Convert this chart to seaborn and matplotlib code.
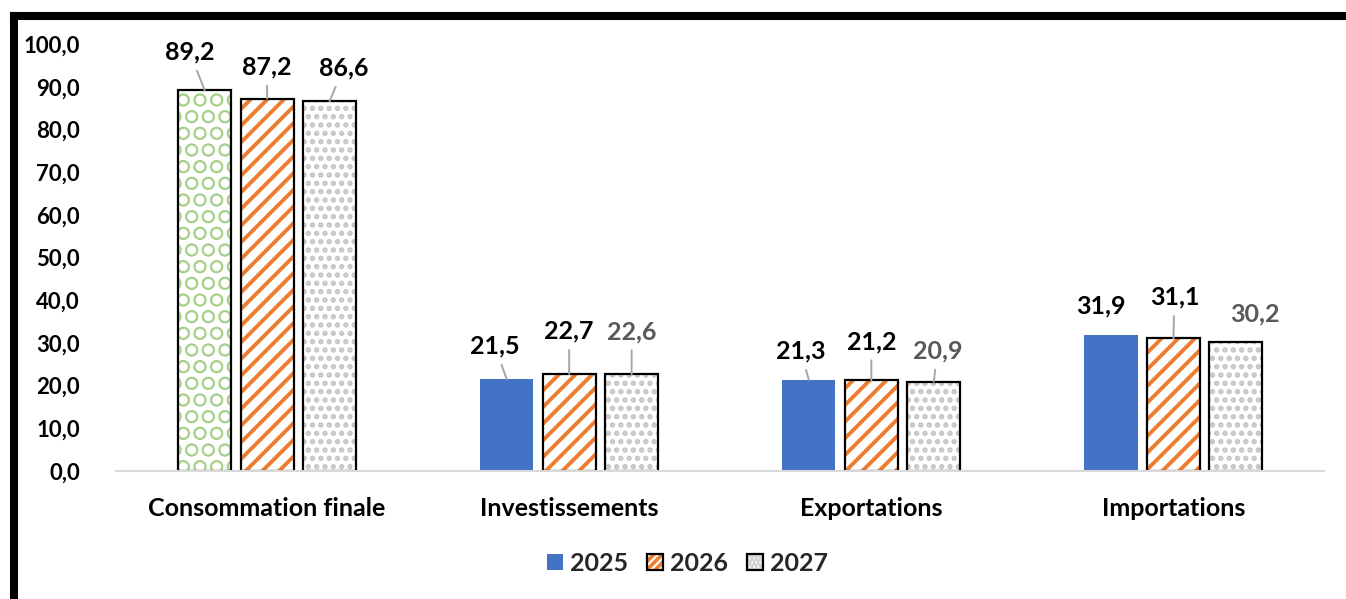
import matplotlib
matplotlib.use("Agg")
import matplotlib.pyplot as plt
from matplotlib.patches import Patch
from matplotlib.lines import Line2D
from matplotlib.colors import to_rgba
import seaborn as sns
import pandas as pd

# Data
categories = ["Consommation finale", "Investissements", "Exportations", "Importations"]
years = ["2025", "2026", "2027"]
values_2025 = [89.2, 21.5, 21.3, 31.9]
values_2026 = [87.2, 22.7, 21.2, 31.1]
values_2027 = [86.6, 22.6, 20.9, 30.2]
y_ticks = [0, 10, 20, 30, 40, 50, 60, 70, 80, 90, 100]

df = pd.DataFrame({
    "categorie": categories * 3,
    "annee": [y for y in years for _ in categories],
    "valeur": values_2025 + values_2026 + values_2027,
})

BLUE = "#4472C4"
ORANGE = "#ED7D31"
GREEN = "#A9D18E"
DOTS = "#C4C4C4"
GREY_TXT = "#595959"

sns.set_theme(style="white")
plt.rcParams["font.family"] = ["Lato", "DejaVu Sans"]
plt.rcParams["font.weight"] = "bold"
plt.rcParams["hatch.linewidth"] = 2.6

fig = plt.figure(figsize=(13.46, 5.99), dpi=100)
ax = fig.add_axes([0.0862, 0.2137, 0.8978, 0.7128])

sns.barplot(data=df, x="categorie", y="valeur", hue="annee", order=categories,
            hue_order=years, palette=[BLUE, "white", "white"], width=0.62,
            gap=0.15, saturation=1, legend=False, ax=ax, errorbar=None)


def style_bar(p, face, hatch=None, hatch_color=None, edge="black", lw=1.6, hlw=None):
    p.set_facecolor(face)
    p.set_edgecolor(edge)
    p.set_linewidth(lw)
    if hatch:
        p.set_hatch(hatch)
        p._hatch_color = to_rgba(hatch_color)
        if hlw is not None and hasattr(p, "set_hatch_linewidth"):
            p.set_hatch_linewidth(hlw)


# containers follow hue order: 2025, 2026, 2027
bars_2025, bars_2026, bars_2027 = ax.containers[:3]
for i, p in enumerate(bars_2025):
    if i == 0:
        style_bar(p, "white", "O", GREEN, hlw=1.2)
    else:
        style_bar(p, BLUE, edge="none", lw=0)
for p in bars_2026:
    style_bar(p, "white", "//", ORANGE, hlw=2.8)
for p in bars_2027:
    style_bar(p, "white", "..", DOTS, hlw=2.6)

# data labels: offsets (pixels) from the bar top, leader flag, colour
label_layout = {
    "2025": [(-15, 38, True), (-12, 33, True), (-8, 29, True), (-10, 29, False)],
    "2026": [(0, 32, True), (0, 43, True), (0, 39, True), (1, 41, True)],
    "2027": [(14, 33, True), (0, 43, True), (4, 31, True), (19, 28, False)],
}
label_colors = {
    "2025": ["black"] * 4,
    "2026": ["black"] * 4,
    "2027": ["black", GREY_TXT, GREY_TXT, GREY_TXT],
}
series = {"2025": values_2025, "2026": values_2026, "2027": values_2027}
for yr, cont in zip(years, [bars_2025, bars_2026, bars_2027]):
    for j, p in enumerate(cont):
        v = series[yr][j]
        dx, dy, leader = label_layout[yr][j]
        xc = p.get_x() + p.get_width() / 2
        kw = {}
        if leader:
            kw["arrowprops"] = dict(arrowstyle="-", color="#A6A6A6", lw=1.4,
                                    shrinkA=3, shrinkB=0)
        ax.annotate(f"{v:.1f}".replace(".", ","), xy=(xc, v),
                    xytext=(dx, dy), textcoords="offset pixels",
                    ha="center", va="center", fontsize=18, fontweight="bold",
                    color=label_colors[yr][j], **kw)

ax.set_ylim(0, 100)
ax.set_yticks(y_ticks)
ax.set_yticklabels([f"{t:.1f}".replace(".", ",") for t in y_ticks])
ax.set_xlim(-0.5, len(categories) - 0.5)
ax.set_xlabel("")
ax.set_ylabel("")
ax.tick_params(axis="y", length=0, pad=26, labelsize=16)
ax.tick_params(axis="x", length=0, pad=19, labelsize=18)
for lab in ax.get_xticklabels() + ax.get_yticklabels():
    lab.set_fontweight("bold")
    lab.set_color("black")
for s in ["left", "right", "top"]:
    ax.spines[s].set_visible(False)
ax.spines["bottom"].set_color("#D9D9D9")
ax.spines["bottom"].set_linewidth(1.5)

# legend
handles = [
    Patch(facecolor=BLUE, edgecolor="none", linewidth=0),
    Patch(facecolor="white", edgecolor="black", linewidth=1.6, hatch="////"),
    Patch(facecolor="white", edgecolor="black", linewidth=1.6, hatch="...."),
]
hatch_cols = [None, ORANGE, DOTS]
leg = fig.legend(handles, years, loc="center", bbox_to_anchor=(0.511, 0.06),
                 ncol=3, frameon=False, fontsize=18, handlelength=0.62,
                 handleheight=0.62, handletextpad=0.3, columnspacing=0.75)
for t in leg.get_texts():
    t.set_fontweight("bold")
for h, c in zip(leg.legend_handles, hatch_cols):
    if c is not None:
        h._hatch_color = to_rgba(c)

# thick frame along the left and top edges
fig.add_artist(Line2D([13.5 / 1346, 13.5 / 1346], [0, 1 - 15.5 / 599],
                      transform=fig.transFigure, color="black", lw=5.8,
                      solid_capstyle="projecting"))
fig.add_artist(Line2D([13.5 / 1346, 1.0], [1 - 15.5 / 599, 1 - 15.5 / 599],
                      transform=fig.transFigure, color="black", lw=5.8,
                      solid_capstyle="projecting"))

fig.savefig("out.png", dpi=100)
